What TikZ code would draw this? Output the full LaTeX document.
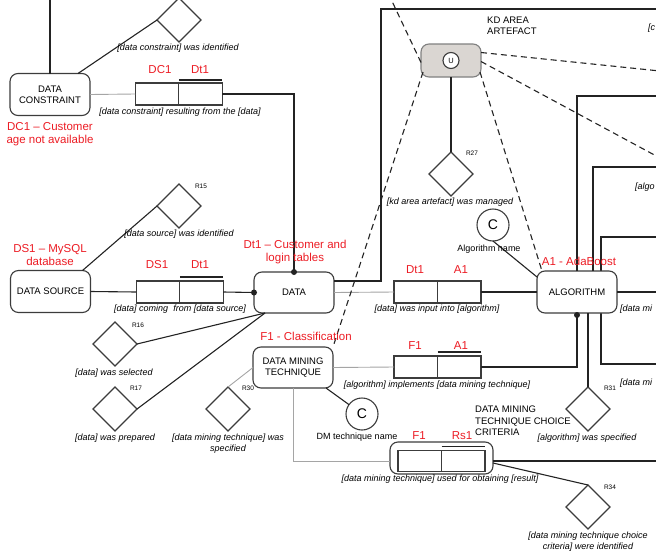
\documentclass[tikz,border=0pt]{standalone}
\usepackage{fontspec}
\setmainfont{Liberation Sans}
\usetikzlibrary{positioning,shapes.geometric}
\definecolor{ink}{RGB}{35, 35, 35}
\definecolor{edge}{RGB}{60, 60, 60}
\definecolor{greyline}{RGB}{165, 165, 165}
\definecolor{tagred}{RGB}{236, 28, 36}
\definecolor{ufill}{RGB}{218, 214, 210}
\tikzset{
  entity/.style={draw=edge, fill=white, line width=1.1pt, rounded corners=8pt, minimum width=80pt, minimum height=42pt,
                 align=center, inner sep=0pt, outer sep=0pt, font=\fontsize{9.5}{11}\selectfont},
  half/.style={draw=edge, line width=1.1pt, minimum width=43.5pt, minimum height=22pt, inner sep=0pt, outer sep=0pt},
  rhomb/.style={draw=edge, fill=white, line width=1.1pt, diamond, minimum width=44pt, minimum height=44pt, inner sep=0pt, outer sep=0pt},
  ring/.style={draw=edge, fill=white, line width=1.1pt, circle, minimum size=32pt, inner sep=0pt, outer sep=0pt, font=\fontsize{14}{14}\selectfont},
  tag/.style={text=tagred, inner sep=0pt, align=center, font=\fontsize{11.5}{13}\selectfont},
  phrase/.style={inner sep=0pt, align=center, font=\fontsize{9}{11}\selectfont\itshape},
  rname/.style={inner sep=0pt, font=\fontsize{6.5}{7}\selectfont},
  heading/.style={inner sep=0pt, align=left, anchor=west, font=\fontsize{9.5}{11.5}\selectfont},
  plain/.style={inner sep=0pt, font=\fontsize{9}{11}\selectfont},
  link/.style={draw=ink, line width=1.1pt},
  faint/.style={draw=greyline, line width=0.9pt},
  trace/.style={draw=ink, line width=1.1pt, dash pattern=on 6pt off 4pt},
  overbar/.style={draw=ink, line width=1.1pt},
}
\begin{document}
\begin{tikzpicture}[x=1pt, y=-1pt]
\useasboundingbox (0,0) rectangle (656,557);
\clip (0,0) rectangle (656,557);

\coordinate (dcup)     at (50,-3);
\coordinate (kdcorner) at (381,9);
\coordinate (kdend)    at (660,9);
\coordinate (kdup)     at (390,-3);
\coordinate (farA)     at (660,71);
\coordinate (farB)     at (660,158);
\coordinate (frameA)   at (660,96);
\coordinate (frameB)   at (660,167);
\coordinate (algoout)  at (660,292);
\coordinate (frout)    at (660,461);

\draw[link] (660,237) -- (601,237) -- (601,364) -- (660,364);

\node[entity] (dcon) at (50,94.5) {DATA\\CONSTRAINT};
\node[entity] (dsrc) at (50.5,291.5) {DATA SOURCE};
\node[entity, minimum height=41pt] (data) at (294,292.5) {DATA};
\node[entity] (algo) at (577,292) {ALGORITHM};
\node[entity, minimum height=41pt] (dmt) at (293,367.5) {DATA MINING\\TECHNIQUE};
\node[entity, fill=ufill, draw=gray, minimum width=60pt, minimum height=33pt] (kdu) at (451,60.5) {};
\node[ring, minimum size=16pt, font=\fontsize{7.5}{8}\selectfont] (uring) at (kdu) {U};
\node[ring] (algC) at (493,225) {C};
\node[ring] (dmC)  at (362,414) {C};

\node[rhomb] (dcid) at (179,20)  {};
\node[rhomb] (r15)  at (179,206) {};
\node[rhomb] (r16)  at (115,344) {};
\node[rhomb] (r17)  at (115,409) {};
\node[rhomb] (r27)  at (451,174) {};
\node[rhomb] (r30)  at (228,409) {};
\node[rhomb] (r31)  at (588,409) {};
\node[rhomb] (r34)  at (588,507) {};

\node[half] (dcA) at (157,94) {};
\node[half, right=0pt of dcA] (dcB) {};
\node[half] (dsA) at (158,292) {};
\node[half, right=0pt of dsA] (dsB) {};
\node[half] (daA) at (415.75,292) {};
\node[half, right=0pt of daA] (daB) {};
\node[half] (faA) at (415.75,367) {};
\node[half, right=0pt of faA] (faB) {};
\node[entity, fill=none, minimum width=103pt, minimum height=32pt] (frbox) at (441.5,458) {};
\node[half, minimum height=21pt] (frA) at (419.75,461) {};
\node[half, minimum height=21pt, right=0pt of frA] (frB) {};

\draw[overbar] ([yshift=3pt]dcB.north west) -- ([yshift=3pt]dcB.north east);
\draw[overbar] ([yshift=4pt]dsB.north west) -- ([yshift=4pt]dsB.north east);
\draw[overbar] ([yshift=4pt]faB.north west) -- ([yshift=4pt]faB.north east);
\draw[overbar] ([yshift=4pt]frB.north west) -- ([yshift=4pt]frB.north east);

\draw[link]  (dcon.north) -- (dcup);
\draw[link]  ([xshift=-12pt]dcon.north east) -- (dcid.west);
\draw[faint] (dcon.east) -- (dcA.west);
\draw[link]  (dcB.east) -| (data.north);
\fill[ink]   (data.north) circle (3pt);
\draw[link]  ([xshift=-8pt]dsrc.north east) -- (r15.west);
\draw[link]  (dsrc.east) -- (dsA.west);
\draw[link]  (dsB.east) -- (data.west);
\fill[ink]   (data.west) circle (3pt);
\draw[link]  ([xshift=11pt]data.south west) -- (r16.east);
\draw[link]  ([xshift=11pt]data.south west) -- (r17.east);
\draw[link]  ([yshift=-9pt]data.north east) -| (kdcorner) -- (kdend);
\draw[faint] (data.east) -- (daA.west);
\draw[link]  (daB.east) -- (algo.west);
\draw[faint] (dmt.east) -- (faA.west);
\draw[link]  (faB.east) -| (algo.south);
\fill[ink]   ([yshift=-2pt]algo.south) circle (3pt);
\draw[link]  (r31.north) -- (r31.north |- algo.south);
\draw[link]  (algo.north) |- (frameA);
\draw[link]  ([xshift=16pt]algo.north) |- (frameB);
\draw[link]  (algo.east) -- (algoout);
\draw[link]  (algC.south) -- ([yshift=-6pt]algo.north west);
\draw[link]  ([xshift=-7pt]dmt.south east) -- (dmC);
\draw[faint] (dmt.west) -- (r30.north);
\draw[faint] (dmt.south) |- (frbox.west |- frA.west);
\draw[link]  (frbox.east |- frB.east) -- (frout);
\draw[link]  ([yshift=-5pt]frbox.east) -- (r34.north);
\draw[link]  (kdu.south) -- (r27.north);

\draw[trace] ([yshift=-2pt]kdu.west) -- (kdup);
\draw[trace] ([shift={(2pt,5pt)}]kdu.south west) -- (dmt.north east);
\draw[trace] ([shift={(-1pt,5pt)}]kdu.south east) -- ([xshift=5pt]algo.north west);
\draw[trace] ([yshift=8pt]kdu.east) -- (farA);
\draw[trace] ([yshift=-1pt]kdu.east) -- (farB);

\node[tag] (dcAtag) at (160,70)  {DC1};
\node[tag] (dcBtag) at (200,70)  {Dt1};
\node[tag] (dctxt)  at (50,134)  {DC1 – Customer\\age not available};
\node[tag] (dstxt)  at (50,255.5) {DS1 – MySQL\\database};
\node[tag] (dsAtag) at (157,265) {DS1};
\node[tag] (dsBtag) at (200,265) {Dt1};
\node[tag] (dttxt)  at (295,252.5) {Dt1 – Customer and\\login tables};
\node[tag] (daAtag) at (415,270) {Dt1};
\node[tag] (daBtag) at (461,270) {A1};
\node[tag] (algtxt) at (579,261) {A1 - AdaBoost};
\node[tag] (dmttxt) at (306,336) {F1 - Classification};
\node[tag] (faAtag) at (415,346) {F1};
\node[tag] (faBtag) at (461,346) {A1};
\node[tag] (frAtag) at (419,436) {F1};
\node[tag] (frBtag) at (462,436) {Rs1};

\node[phrase] (dcidtxt) at (178,48)  {[data constraint] was identified};
\node[phrase] (dcrel)   at (180,112) {[data constraint] resulting from the [data]};
\node[phrase] (r15txt)  at (179,234) {[data source] was identified};
\node[phrase] (dsrel)   at (180,309) {[data] coming\hspace{0.6em}from [data source]};
\node[phrase] (r27txt)  at (450,202) {[kd area artefact] was managed};
\node[phrase] (darel)   at (437,309) {[data] was input into [algorithm]};
\node[phrase] (farel)   at (437,385) {[algorithm] implements [data mining technique]};
\node[phrase] (r16txt)  at (114,373) {[data] was selected};
\node[phrase] (r17txt)  at (115,438) {[data] was prepared};
\node[phrase] (r30txt)  at (228,443.5) {[data mining technique] was\\specified};
\node[phrase] (r31txt)  at (587,438) {[algorithm] was specified};
\node[phrase] (frrel)   at (440,479) {[data mining technique] used for obtaining [result]};
\node[phrase] (r34txt)  at (588,541.5) {[data mining technique choice\\criteria] were identified};
\node[phrase, anchor=west] (cfrag)  at (648,28)  {[c};
\node[phrase, anchor=west] (afrag)  at (635,187) {[algo};
\node[phrase, anchor=west] (dfragA) at (620,309) {[data mi};
\node[phrase, anchor=west] (dfragB) at (620,383) {[data mi};

\node[rname] (r15lbl) at (201,186) {R15};
\node[rname] (r16lbl) at (138,325) {R16};
\node[rname] (r17lbl) at (136,388) {R17};
\node[rname] (r27lbl) at (472,153) {R27};
\node[rname] (r30lbl) at (248,388) {R30};
\node[rname] (r31lbl) at (610,388) {R31};
\node[rname] (r34lbl) at (610,487) {R34};

\node[plain]   (algname) at (489,249) {Algorithm name};
\node[plain]   (dmname)  at (357,437) {DM technique name};
\node[heading] (kdhead)  at (487,26)  {KD AREA\\ARTEFACT};
\node[heading] (frhead)  at (475,421) {DATA MINING\\TECHNIQUE CHOICE\\CRITERIA};
\end{tikzpicture}
\end{document}
